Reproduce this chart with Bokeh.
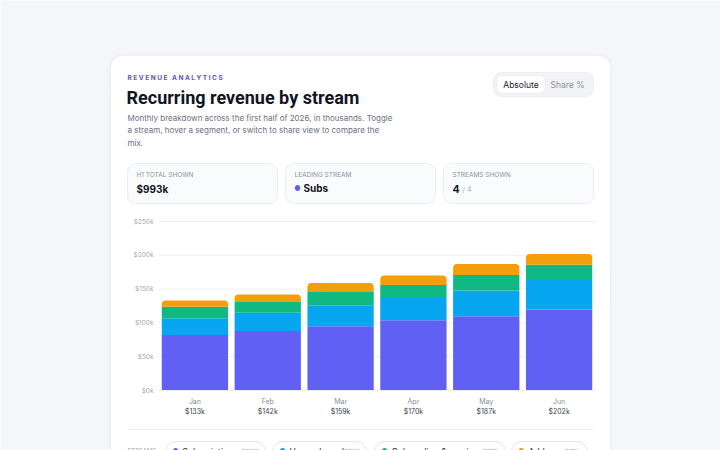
from bokeh.plotting import figure
from bokeh.models import (ColumnDataSource, Label, LabelSet, BoxAnnotation, Range1d)
from bokeh.core.properties import value
from bokeh.embed import file_html
from bokeh.resources import INLINE

# ---- data (thousands of USD) ----
months = ["Jan", "Feb", "Mar", "Apr", "May", "Jun"]
subscriptions = [82, 88, 95, 104, 110, 120]
usage_based = [25, 27, 31, 33, 38, 45]
onboarding = [17, 16, 21, 19, 23, 21]
add_ons = [9, 11, 12, 14, 16, 16]

stream_keys = ["subscriptions", "usage_based", "onboarding", "add_ons"]
stream_names = ["Subscriptions", "Usage-based", "Onboarding & services", "Add-ons"]
stream_short = ["Subs", "Usage", "Services", "Add-ons"]
stream_colors = ["#6160f4", "#06a6f1", "#10b981", "#f59e0b"]
y_ticks = [0, 50, 100, 150, 200, 250]
y_tick_labels = ["$0k", "$50k", "$100k", "$150k", "$200k", "$250k"]

series = [subscriptions, usage_based, onboarding, add_ons]
month_totals = [sum(v) for v in zip(*series)]
stream_totals = [sum(s) for s in series]
grand_total = sum(month_totals)
leading = stream_short[stream_totals.index(max(stream_totals))]

FONT = "Inter"
W, H = 720, 450

# plot area of the chart inside the page, in canvas pixels
CH_L, CH_R, CH_T, CH_B = 158, 595, 221, 390
Y_MAX = 250
px_per_slot = (CH_R - CH_L) / len(months)
px_per_k = (CH_B - CH_T) / Y_MAX

x_range = Range1d(-CH_L / px_per_slot, len(months) + (W - CH_R) / px_per_slot)
y_range = Range1d(-(H - CH_B) / px_per_k, Y_MAX + CH_T / px_per_k)

src = ColumnDataSource(dict(x=[i + 0.5 for i in range(len(months))], month=months,
                            total=[f"${t}k" for t in month_totals],
                            subscriptions=subscriptions, usage_based=usage_based,
                            onboarding=onboarding, add_ons=add_ons))

p = figure(width=W, height=H, x_range=x_range, y_range=y_range,
           output_backend="svg", toolbar_location=None,
           min_border=0, x_axis_location=None, y_axis_location=None)
p.border_fill_color = "#f4f6f9"
p.background_fill_color = "#f4f6f9"
p.outline_line_color = None
p.grid.visible = False


def box(l, t, r, b, fill, line=None, radius=0, level="image"):
    p.add_layout(BoxAnnotation(left=l, right=r, top=t, bottom=b,
                               left_units="canvas", right_units="canvas",
                               top_units="canvas", bottom_units="canvas",
                               fill_color=fill, fill_alpha=1, line_color=line,
                               line_alpha=1 if line else 0, border_radius=radius,
                               level=level, editable=False))


def label(x, y, text, size, color, style="normal", align="left", font=FONT):
    p.add_layout(Label(x=x, y=y, x_units="canvas", y_units="canvas", text=text,
                       text_font=font, text_font_size=size, text_color=color,
                       text_font_style=style, text_align=align,
                       text_baseline="middle"))


# ---- card ----
box(108, 53, 612, 470, "#f0f2f6", radius=14)
box(110, 55, 610, 470, "#ffffff", line="#eef0f4", radius=12)

NB = "\u00a0"
eyebrow = (NB * 3).join(NB.join(word) for word in ["REVENUE", "ANALYTICS"])
label(127, 77, eyebrow, "6.5px", "#5b50d6", "bold")
label(126, 97, "Recurring revenue by stream", "18px", "#12151f", "bold", font="Roboto")
for i, line in enumerate(["Monthly breakdown across the first half of 2026, in thousands. Toggle",
                          "a stream, hover a segment, or switch to share view to compare the",
                          "mix."]):
    label(127, 117 + i * 12.7, line, "8px", "#6b7180")

# view toggle
box(493, 72, 593, 96, "#f1f3f7", line="#eceef2", radius=8)
box(496, 75, 545, 93, "#ffffff", line="#e9ecf0", radius=6)
label(520.5, 84, "Absolute", "8.5px", "#1a1d26", align="center")
label(567, 84, "Share %", "8.5px", "#8b919c", align="center")

# KPI tiles
for l in (127, 285, 443):
    box(l, 163, l + 150, 203, "#fafbfc", line="#eceef2", radius=8)
label(136, 174, "H1 TOTAL SHOWN", "6.5px", "#8b919c")
label(136, 188, f"${grand_total}k", "10px", "#12151f", "bold")
label(294, 174, "LEADING STREAM", "6.5px", "#8b919c")
label(297, 187.5, "●", "7px", stream_colors[0], align="center")
label(303, 187.5, leading, "10px", "#12151f", "bold")
label(452, 174, "STREAMS SHOWN", "6.5px", "#8b919c")
label(452, 188, f"{len(stream_names)}", "10.5px", "#12151f", "bold")
label(462, 188.5, f"/ {len(stream_names)}", "7px", "#a3a8b3")

# divider and stream legend
box(127, 428.5, 593, 429.5, "#eceef2")
label(127, 450, "STREAMS", "6px", "#a3a8b3")
chip_x = [165, 272, 374, 511]
chip_w = [100, 94, 131, 76]
name_w = [56, 51, 88, 33]
for x0, w, nw, name, color, tot in zip(chip_x, chip_w, name_w, stream_names,
                                        stream_colors, stream_totals):
    box(x0, 441, x0 + w, 462, "#ffffff", line="#e3e6eb", radius=11)
    label(x0 + 10, 450.5, "●", "7px", color, align="center")
    label(x0 + 17, 451, name, "8.5px", "#1a1d26")
    label(x0 + 20 + nw, 451, f"${tot}k", "6.5px", "#a3a8b3")

# ---- value axis: gridlines and tick labels ----
p.segment(x0=0, x1=len(months), y0=y_ticks, y1=y_ticks,
          line_color="#eef0f4", line_width=1)
for t, txt in zip(y_ticks, y_tick_labels):
    p.add_layout(Label(x=CH_L - 5, x_units="canvas", y=t, text=txt,
                       text_font=FONT, text_font_size="6.5px",
                       text_color="#a3a8b3", text_align="right",
                       text_baseline="middle"))

# ---- stacked bars ----
rs = p.vbar_stack(stream_keys, x="x", width=0.91, source=src,
                  fill_color=stream_colors, line_color=None)
rs[-1].glyph.border_radius = (4, 4, 0, 0)
p.segment(x0=0, x1=len(months), y0=0, y1=0, line_color="#eceef2", line_width=1)

# ---- month names and month totals ----
p.add_layout(LabelSet(x="x", y=401, y_units="canvas", text="month", source=src,
                      text_font=value(FONT), text_font_size="7px",
                      text_color="#8a909c", text_align="center",
                      text_baseline="middle"))
p.add_layout(LabelSet(x="x", y=411, y_units="canvas", text="total", source=src,
                      text_font=value(FONT), text_font_size="7px",
                      text_color="#3a3f4b", text_align="center",
                      text_baseline="middle"))

open("out.html", "w").write(file_html(p, INLINE))
